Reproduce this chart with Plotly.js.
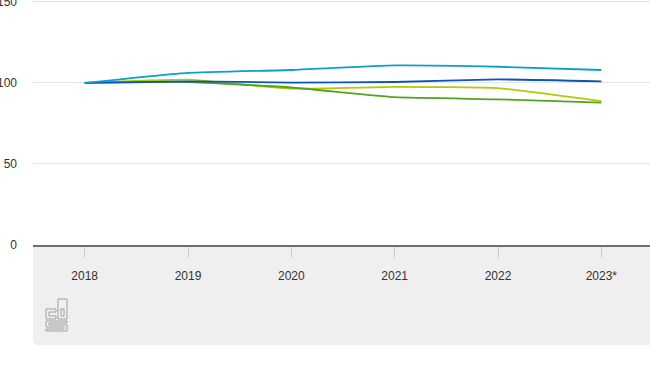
<!DOCTYPE html>
<html><head><meta charset="utf-8">
<script src="https://cdn.plot.ly/plotly-3.0.1.min.js"></script>
<style>html,body{margin:0;padding:0;overflow:hidden;background:#fff;width:650px;height:366px}#c{width:660px;height:366px}</style>
</head><body><div id="c"></div>
<script>
const years = ["2018","2019","2020","2021","2022","2023*"];
const seriesLightBlue = [100, 106.2, 108.0, 110.8, 110.0, 108.0];
const seriesDarkBlue  = [100, 101.0, 100.2, 100.6, 102.2, 101.0];
const seriesYellow    = [100, 102.0, 96.5, 97.6, 96.8, 88.8];
const seriesGreen     = [100, 100.6, 97.2, 91.2, 89.9, 87.9];
const colors = ["#0b9fc9", "#0b55b3", "#afcb05", "#53a31d"];

const all = [seriesLightBlue, seriesDarkBlue, seriesYellow, seriesGreen];
const traces = all.map((s, i) => ({
  type: "scatter", mode: "lines", x: years, y: s,
  line: {color: colors[i], width: 1.8, shape: "spline", smoothing: 0.4},
  hoverinfo: "skip", showlegend: false
}));
const order = [2, 3, 1, 0];
const data = order.map(i => traces[i]);

// pixel -> paper helpers (plot area: left 33, top 0, width 620, height 245)
const L = 33, T = 0, W = 620, H = 245;
const px = x => ((x - L) / W).toFixed(5);
const py = y => ((T + H - y) / H).toFixed(5);
function pth(pts, close) {
  return pts.map((p, k) => (k ? "L" : "M") + px(p[0]) + "," + py(p[1])).join(" ") + (close ? " Z" : "");
}
const gTop = 245, gBot = 345, r = 6;
const band = "M" + px(33) + "," + py(gTop) + " L" + px(33) + "," + py(gBot - r) +
  " Q" + px(33) + "," + py(gBot) + " " + px(33 + r) + "," + py(gBot) +
  " L" + px(700) + "," + py(gBot) + " L" + px(700) + "," + py(gTop) + " Z";

const ox = 46, oy = 299;
const o = pts => pts.map(p => [ox + p[0], oy + p[1]]);
const logoPaths = [
  pth(o([[10,10],[0,10],[0,20],[10,20],[10,17],[3,17],[3,13],[10,13]]), true),
  pth(o([[12,0],[21,0],[21,20],[12,20]]), true),
  pth(o([[15,10],[18,10],[18,17],[15,17]]), true),
  pth(o([[21,22],[0,22],[0,28],[18,28],[18,30],[0,30],[0,32],[21,32],[21,26],[3,26],[3,24],[21,24]]), true)
];

const shapes = [{type: "path", path: band, xref: "paper", yref: "paper",
  fillcolor: "#efefef", line: {width: 0}, layer: "below"}];
logoPaths.forEach(p => shapes.push({type: "path", path: p, xref: "paper", yref: "paper",
  fillcolor: "rgba(0,0,0,0)", line: {color: "#a0a0a0", width: 1}, layer: "above"}));

const layout = {
  width: 660, height: 366,
  margin: {l: 33, r: 7, t: 0, b: 121},
  paper_bgcolor: "rgba(0,0,0,0)", plot_bgcolor: "rgba(0,0,0,0)",
  font: {family: "Liberation Sans, Arial, sans-serif", size: 12, color: "#333"},
  xaxis: {type: "category", range: [-0.5, 5.5], showgrid: false, zeroline: false,
    showline: true, linecolor: "#6e6e6e", linewidth: 2,
    ticks: "outside", ticklen: 11, tickcolor: "#cccccc", tickwidth: 1,
    ticklabelstandoff: 8, tickfont: {size: 12, color: "#333"}},
  yaxis: {range: [0, 151.2], tickvals: [0, 50, 100, 150], showgrid: true,
    gridcolor: "#e4e4e4", gridwidth: 1, zeroline: false, showline: false,
    ticks: "", ticklabelstandoff: 15, ticklabeloverflow: "allow",
    tickfont: {size: 12, color: "#333"}},
  shapes: shapes,
  showlegend: false
};
Plotly.newPlot("c", data, layout, {staticPlot: true, displayModeBar: false});
</script></body></html>
